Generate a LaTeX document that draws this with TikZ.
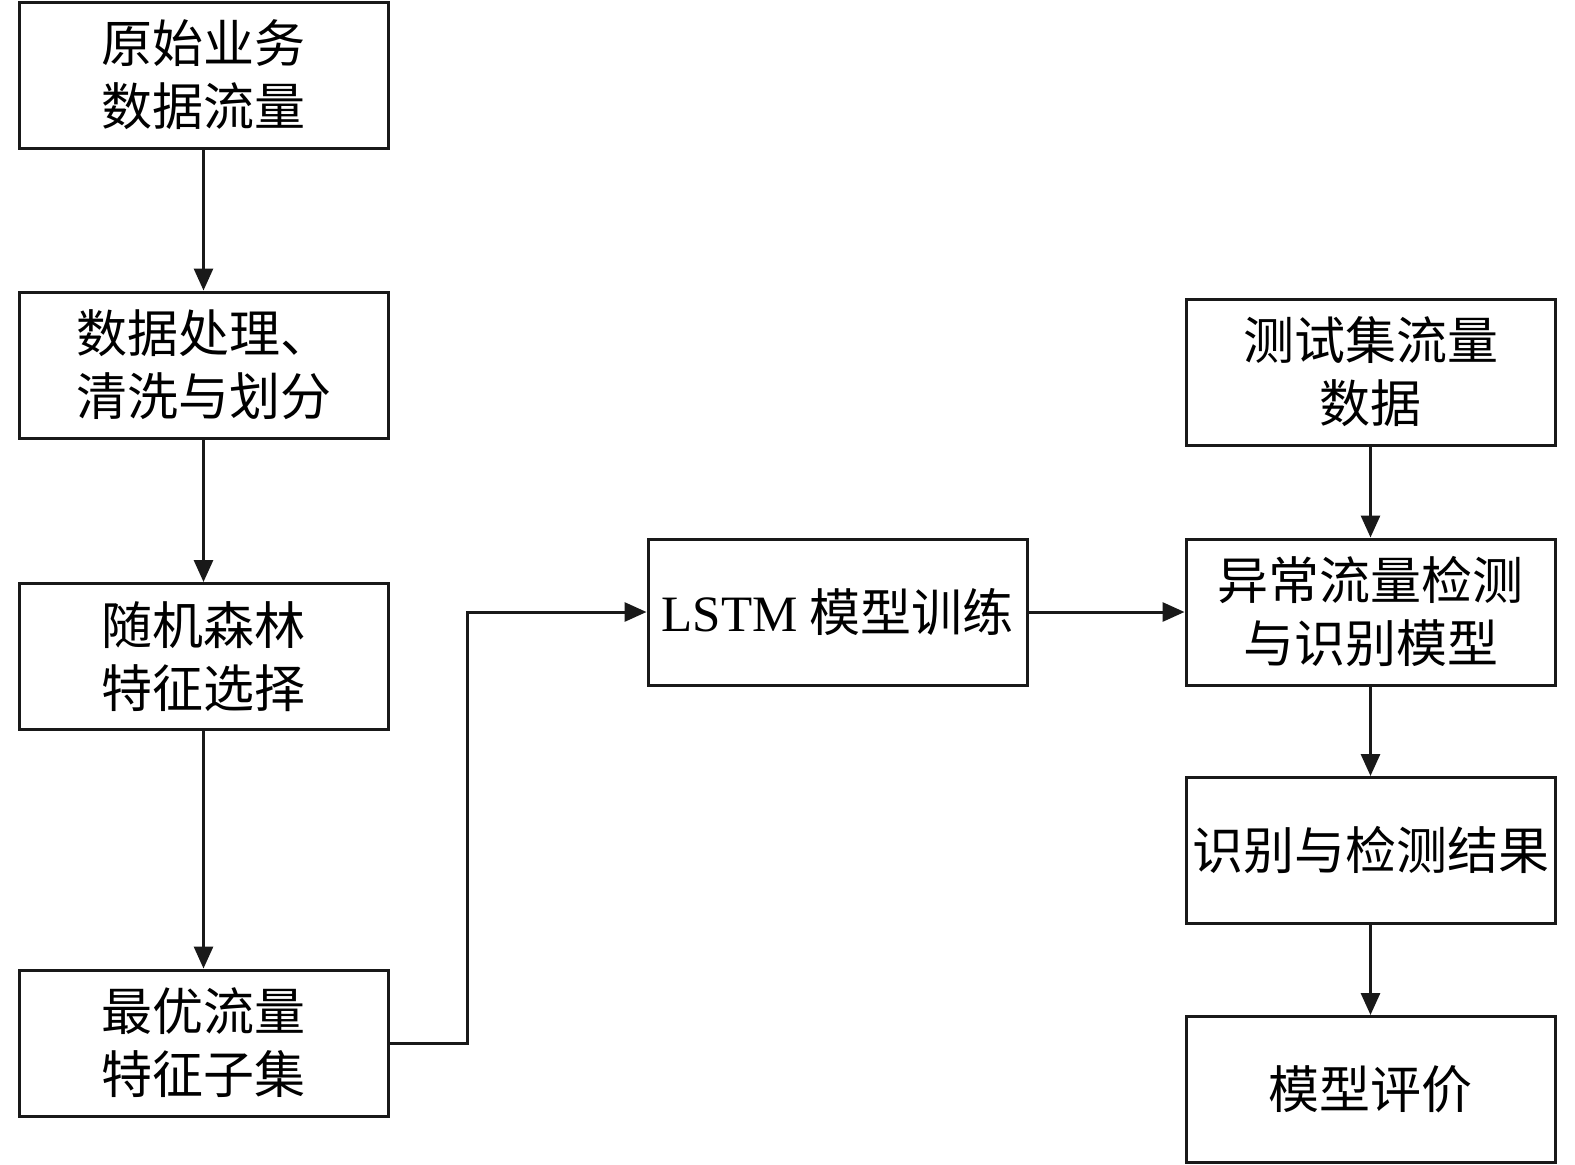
\documentclass[tikz,border=0pt]{standalone}
\usepackage{fontspec}
\setmainfont{Liberation Serif}
\newfontfamily\cjk{Noto Sans CJK SC}
\usetikzlibrary{arrows.meta}
\tikzset{
  box/.style={draw=black!90, line width=1.5pt, minimum width=184.5pt, minimum height=73pt, inner sep=0pt, align=center, font=\cjk\fontsize{25.5}{31.5}\selectfont},
  arr/.style={draw=black!90, line width=1.5pt, -{Triangle[width=9.5pt,length=11pt]}},
  ln/.style={draw=black!90, line width=1.5pt}
}
\begin{document}
\begin{tikzpicture}[x=0.5pt,y=-0.5pt]
\useasboundingbox[fill=white] (0,0) rectangle (1575,1164);
\node[box] (b1) at (203.5,75) {原始业务\\数据流量};
\node[box] (b2) at (203.5,365) {数据处理、\\清洗与划分};
\node[box] (b3) at (203.5,656.5) {随机森林\\特征选择};
\node[box] (b4) at (203.5,1043) {最优流量\\特征子集};
\node[box, minimum width=189.5pt] (lstm) at (837.5,612) {{\fontspec{Liberation Serif}LSTM} 模型训练};
\node[box] (b6) at (1370.5,372) {测试集流量\\数据};
\node[box] (b7) at (1370.5,612) {异常流量检测\\与识别模型};
\node[box] (b8) at (1370.5,850.5) {识别与检测结果};
\node[box] (b9) at (1370.5,1089.5) {模型评价};
\coordinate (k) at (467,1043);
\draw[arr] (b1) -- (b2);
\draw[arr] (b2) -- (b3);
\draw[arr] (b3) -- (b4);
\draw[arr] (b4.east) -- (k) |- (lstm.west);
\draw[arr] (lstm) -- (b7);
\draw[arr] (b6) -- (b7);
\draw[arr] (b7) -- (b8);
\draw[arr] (b8) -- (b9);
\end{tikzpicture}
\end{document}
